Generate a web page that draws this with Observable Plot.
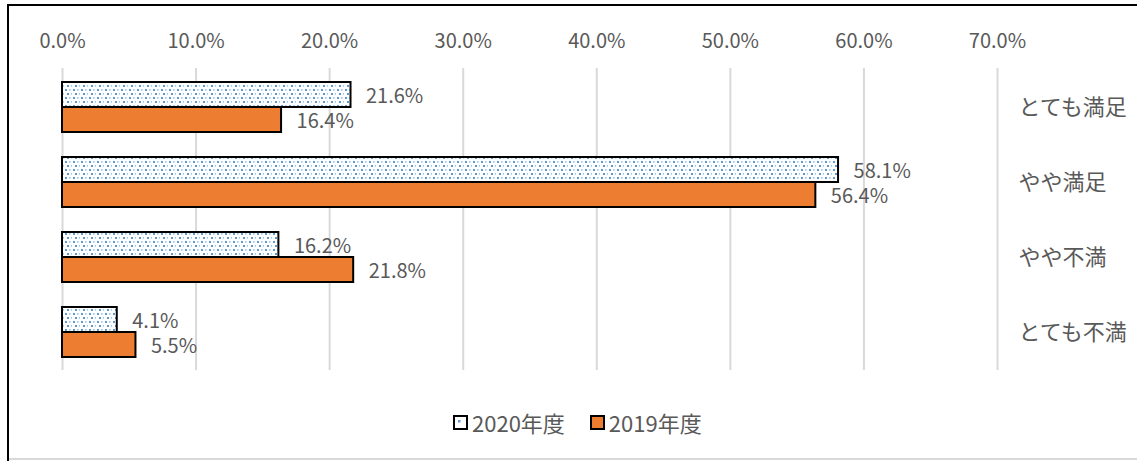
<!DOCTYPE html>
<html>
<head>
<meta charset="utf-8">
<script src="https://cdn.jsdelivr.net/npm/d3@7"></script>
<script src="https://cdn.jsdelivr.net/npm/@observablehq/plot@0.6"></script>
<style>
  html, body { margin: 0; padding: 0; background: #fff; }
  #wrap { position: relative; width: 1137px; height: 461px; overflow: hidden; background: #fff; }
  #topline { position: absolute; left: 7px; top: 4px; width: 1130px; height: 2px; background: #000; }
  #leftline { position: absolute; left: 7px; top: 4px; width: 2px; height: 457px; background: #000; }
  #bottomline { position: absolute; left: 9px; top: 458px; width: 1128px; height: 2px; background: #d9d9d9; }
  #chart { position: absolute; left: 0; top: 0; }
  #legend { position: absolute; left: 453px; top: 406px; display: flex; gap: 25px;
    font-family: "Noto Sans CJK JP", sans-serif; font-size: 22px; color: #595959; }
  .item { display: flex; align-items: center; gap: 4px; }
  .item svg { display: block; }
</style>
</head>
<body>
<div id="wrap">
  <div id="chart"></div>
  <div id="topline"></div>
  <div id="leftline"></div>
  <div id="bottomline"></div>
  <div id="legend"></div>
</div>
<script>
const categories = ["とても満足", "やや満足", "やや不満", "とても不満"];
const seriesNames = ["2020年度", "2019年度"];
const values2020 = [0.216, 0.581, 0.162, 0.041];
const values2019 = [0.164, 0.564, 0.218, 0.055];
const xTicks = [0, 0.1, 0.2, 0.3, 0.4, 0.5, 0.6, 0.7];

const data = categories.flatMap((c, i) => [
  {category: c, series: seriesNames[0], value: values2020[i]},
  {category: c, series: seriesNames[1], value: values2019[i]}
]);
const d2020 = data.filter(d => d.series === seriesNames[0]);
const d2019 = data.filter(d => d.series === seriesNames[1]);
const pct = v => (v * 100).toFixed(1) + "%";

const half = 25;
const plot = Plot.plot({
  width: 1137,
  height: 390,
  marginLeft: 62,
  marginRight: 140,
  marginTop: 68,
  marginBottom: 20,
  style: {fontFamily: "'Noto Sans CJK JP', sans-serif", fontSize: "20px", color: "#595959", background: "transparent"},
  x: {domain: [0, 0.7], label: null},
  y: {domain: categories, paddingInner: 0.335, paddingOuter: 0.1675, label: null},
  marks: [
    Plot.ruleX(xTicks, {x: d => d, stroke: "#d9d9d9", strokeWidth: 2}),
    Plot.barX(d2020, {y: "category", x: "value", fill: "url(#dots)", stroke: "#000", strokeWidth: 2, insetBottom: half}),
    Plot.barX(d2019, {y: "category", x: "value", fill: "#ED7D31", stroke: "#000", strokeWidth: 2, insetTop: half}),
    Plot.text(d2020, {y: "category", x: "value", text: d => pct(d.value), dx: 15, dy: -11, textAnchor: "start", fill: "#595959", fontSize: 20}),
    Plot.text(d2019, {y: "category", x: "value", text: d => pct(d.value), dx: 15, dy: 14, textAnchor: "start", fill: "#595959", fontSize: 20}),
    Plot.axisX({anchor: "top", ticks: xTicks, tickFormat: pct, tickSize: 0, tickPadding: 21, label: null, fontSize: 20}),
    Plot.axisY({anchor: "right", tickSize: 0, tickPadding: 21, textAnchor: "start", label: null, fontSize: 22})
  ]
});

const defs = `<defs>
  <pattern id="dots" patternUnits="userSpaceOnUse" width="8" height="8">
    <rect width="8" height="8" fill="#ffffff"/>
    <rect x="1" y="1" width="2" height="2" fill="#5B9BD5"/>
    <rect x="5" y="1" width="1.6" height="1.6" fill="#9DC3E6"/>
    <rect x="3" y="5" width="2" height="2" fill="#5B9BD5"/>
    <rect x="7" y="5" width="1.6" height="1.6" fill="#9DC3E6"/>
  </pattern>
  <pattern id="dotsSwatch" patternUnits="userSpaceOnUse" width="12" height="12">
    <rect width="12" height="12" fill="#ffffff"/>
    <rect x="5" y="5" width="2.5" height="2.5" fill="#5B9BD5"/>
  </pattern>
</defs>`;
plot.insertAdjacentHTML("afterbegin", defs);
document.getElementById("chart").appendChild(plot);

const legend = document.getElementById("legend");
const swatchFill = ["url(#dotsSwatch)", "#ED7D31"];
seriesNames.forEach((name, i) => {
  const item = document.createElement("div");
  item.className = "item";
  item.innerHTML = `<svg width="15" height="15"><rect x="1" y="1" width="13" height="13" fill="${swatchFill[i]}" stroke="#000" stroke-width="2"/></svg><span>${name}</span>`;
  legend.appendChild(item);
});
</script>
</body>
</html>
